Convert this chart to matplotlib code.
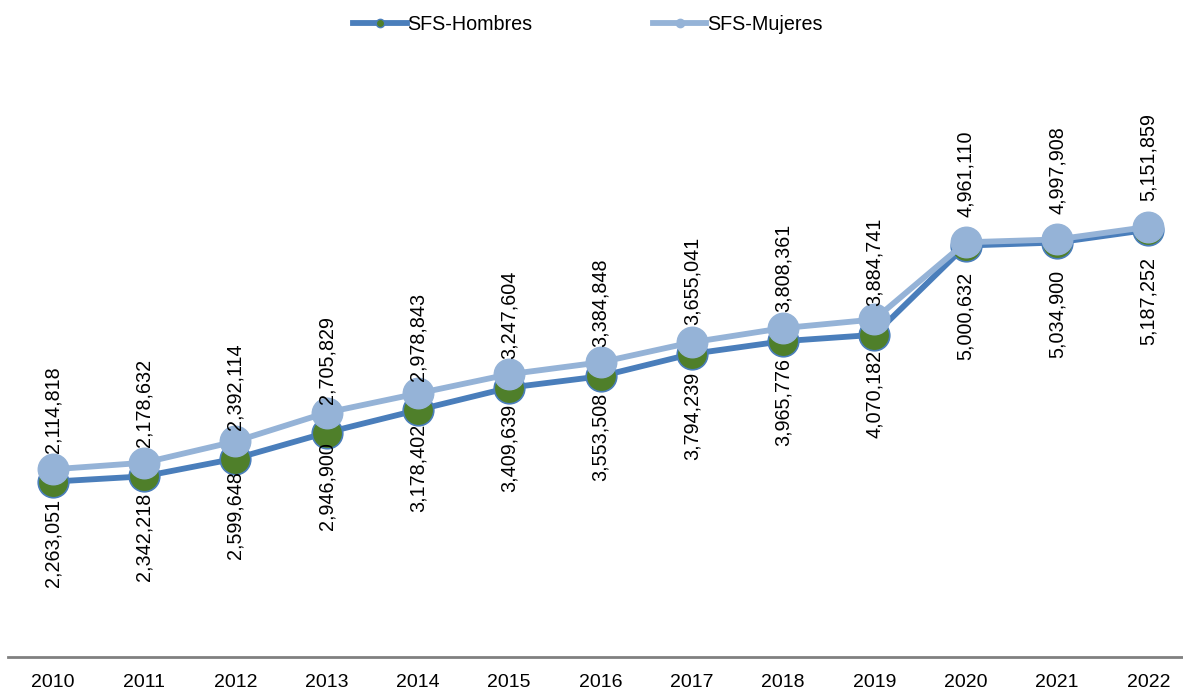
import matplotlib
matplotlib.use("Agg")
import matplotlib.pyplot as plt
from matplotlib.lines import Line2D

years = ["2010", "2011", "2012", "2013", "2014", "2015", "2016",
         "2017", "2018", "2019", "2020", "2021", "2022"]
hombres = [2114818, 2178632, 2392114, 2705829, 2978843, 3247604, 3384848,
           3655041, 3808361, 3884741, 4961110, 4997908, 5151859]
mujeres = [2263051, 2342218, 2599648, 2946900, 3178402, 3409639, 3553508,
           3794239, 3965776, 4070182, 5000632, 5034900, 5187252]

plt.rcParams['font.family'] = ['Liberation Sans', 'DejaVu Sans']

W, H = 1183, 690
fig = plt.figure(figsize=(W / 100, H / 100), dpi=100)
ax = fig.add_axes([8 / W, 33 / H, 1175 / W, 597 / H])

c_h_line = '#4A7EBB'
c_h_mark = '#4F7F2A'
c_m = '#95B3D7'

x = list(range(len(years)))
ax.plot(x, hombres, color=c_h_line, lw=4.2, marker='o', ms=22,
        mfc=c_h_mark, mec=c_h_line, mew=1.2, zorder=3, solid_capstyle='round')
ax.plot(x, mujeres, color=c_m, lw=4.2, marker='o', ms=22,
        mfc=c_m, mec=c_m, mew=1.0, zorder=4, solid_capstyle='round')

for xi, v in zip(x, hombres):
    ax.annotate(f"{v:,}", (xi, v), xytext=(0, 29), textcoords='offset pixels',
                rotation=90, ha='center', va='bottom', fontsize=14.2, color='black',
                zorder=5)
for xi, v in zip(x, mujeres):
    ax.annotate(f"{v:,}", (xi, v), xytext=(0, -30), textcoords='offset pixels',
                rotation=90, ha='center', va='top', fontsize=14.2, color='black',
                zorder=5)

ax.set_xlim(-0.49, 12.38)
ax.set_ylim(0, 597 * 12058)
ax.set_xticks(x)
ax.set_xticklabels(years, fontsize=14)
ax.tick_params(axis='x', length=0, pad=12)
ax.set_yticks([])
for s in ['top', 'right', 'left']:
    ax.spines[s].set_visible(False)
ax.spines['bottom'].set_color('#808080')
ax.spines['bottom'].set_linewidth(2)
ax.patch.set_alpha(0)

handles = [
    Line2D([], [], color=c_h_line, lw=4.2, marker='o', ms=6, mfc=c_h_mark, mec=c_h_line),
    Line2D([], [], color=c_m, lw=4.2, marker='o', ms=6, mfc=c_m, mec=c_m),
]
fig.legend(handles, ["SFS-Hombres", "SFS-Mujeres"], loc='center',
           bbox_to_anchor=(588 / W, 1 - 24 / H), ncol=2, frameon=False,
           fontsize=14.2, handlelength=2.7, handletextpad=0.05, columnspacing=6.1)

fig.savefig("out.png", dpi=100)
